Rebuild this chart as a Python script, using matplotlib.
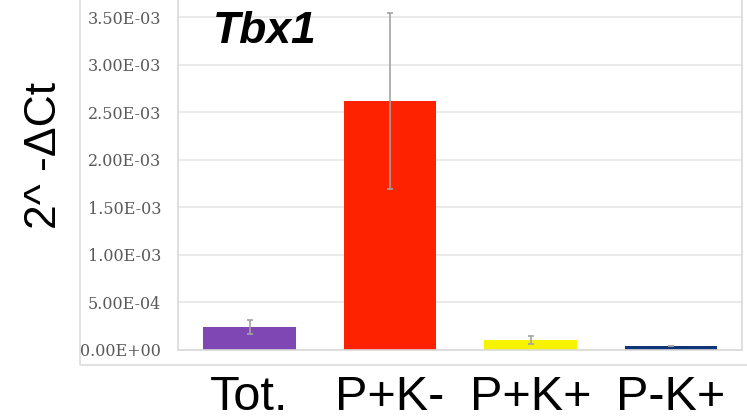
import matplotlib.pyplot as plt
from matplotlib.patches import Rectangle
from matplotlib.ticker import FuncFormatter

# Tbx1 expression per sorted population
groups = ["Tot.", "P+K-", "P+K+", "P-K+"]
expr = [2.42e-4, 2.615e-3, 1.05e-4, 4.2e-5]
expr_err = [7.0e-5, 9.25e-4, 4.5e-5, 5.0e-6]
bar_colors = ["#7e47b3", "#ff2200", "#f7f300", "#0f3477"]
ytick_vals = [0, 5e-4, 1e-3, 1.5e-3, 2e-3, 2.5e-3, 3e-3, 3.5e-3]

W, H = 747, 418
fig = plt.figure(figsize=(W / 100, H / 100), dpi=100)

# outer chart frame
fig.patches.append(Rectangle((80 / W, (H - 365) / H), 1.0, 1.0,
                             transform=fig.transFigure, fill=False,
                             edgecolor="#dcdcdc", linewidth=1.2, zorder=0))

ax = fig.add_axes([178 / W, (H - 350) / H, (742 - 178) / W, 352 / H])
x = range(len(groups))
ax.bar(x, expr, width=0.66, color=bar_colors, zorder=2)
ax.errorbar(x, expr, yerr=expr_err, fmt="none", ecolor="#a3a3a3",
            elinewidth=1.2, capsize=2.5, capthick=1.2, zorder=3)

ax.set_xlim(-0.509, 3.505)
ax.set_ylim(0, 0.0037)
ax.set_yticks(ytick_vals)
ax.yaxis.set_major_formatter(FuncFormatter(lambda v, pos: f"{v:.2E}"))
ax.grid(axis="y", color="#e6e6e6", linewidth=1.2, zorder=0)
ax.set_axisbelow(True)
for s in ax.spines.values():
    s.set_color("#d9d9d9")
    s.set_linewidth(1.2)
ax.tick_params(axis="y", length=0, pad=12, labelsize=11.5, labelcolor="#595959")
for t in ax.get_yticklabels():
    t.set_family("DejaVu Serif")
ax.set_xticks(list(x))
ax.set_xticklabels(groups, family="Liberation Sans", fontsize=35, color="black")
ax.tick_params(axis="x", length=0, pad=18)

fig.text(213 / W, (H - 43) / H, "Tbx1", family="Liberation Sans",
         fontsize=32, fontweight="bold", fontstyle="italic", va="baseline")
fig.text(45 / W, (H - 155) / H, "2^ -ΔCt", family="Liberation Sans",
         fontsize=32, rotation=90, ha="center", va="center")

fig.savefig("out.png", dpi=100)
